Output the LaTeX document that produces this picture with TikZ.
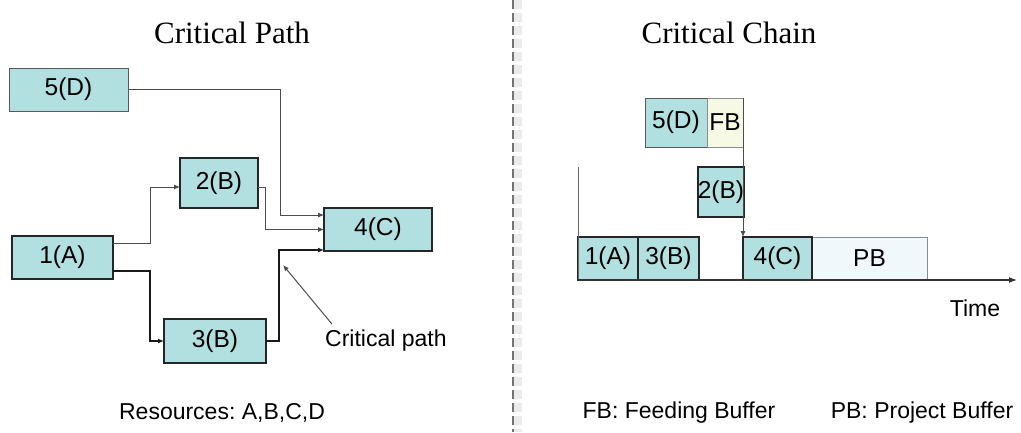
\documentclass[tikz,border=0pt]{standalone}
\usepackage{fontspec}
\setmainfont{Liberation Sans}
\newfontfamily\titlefont{Liberation Serif}
\usetikzlibrary{arrows.meta, positioning, calc}
\definecolor{taskfill}{RGB}{178,224,224}
\definecolor{fbfill}{RGB}{246,250,228}
\definecolor{pbfill}{RGB}{240,248,252}
\frenchspacing

\begin{document}
\begin{tikzpicture}[x=1pt, y=-1pt,
    lbl/.style={font=\fontsize{23}{23}\selectfont, inner sep=0pt},
    task/.style={draw=black!85, line width=2.6pt, fill=taskfill, inner sep=0pt,
                 outer sep=0pt, font=\fontsize{24.5}{24.5}\selectfont},
    thintask/.style={task, draw=black!65, line width=1pt},
    buffer/.style={thintask, draw=black!45},
    thinedge/.style={draw=black!70, line width=0.9pt, -{Latex[length=6pt,width=5pt]}},
    thickedge/.style={draw=black!90, line width=2.2pt, -{Latex[length=6pt,width=5pt]}}]
  \useasboundingbox (0,0) rectangle (1021,432);
  % separator between the two halves
  \draw[black!8, line width=8pt, dash pattern=on 9pt off 4pt] (518,0) -- (518,432);
  \draw[black!55, line width=2.5pt, dash pattern=on 9pt off 4pt] (513,0) -- (513,432);
  % titles
  \node[font=\titlefont\fontsize{31}{31}\selectfont] (tpath) at (232,33) {Critical Path};
  \node[font=\titlefont\fontsize{31}{31}\selectfont] (tchain) at (729,33) {Critical Chain};

  % Critical path network
  \node[thintask, minimum width=119pt, minimum height=43pt] (d5) at (68.5,89.5) {5(D)};
  \node[task, minimum width=78pt, minimum height=50pt] (b2) at (219,183) {2(B)};
  \node[task, minimum width=108pt, minimum height=43pt] (c4) at (378,229.5) {4(C)};
  \node[task, minimum width=101pt, minimum height=43pt] (a1) at (62.5,257.5) {1(A)};
  \node[task, minimum width=102pt, minimum height=44pt] (b3) at (215,341) {3(B)};
  \draw[thinedge] (d5.east) -- ++(152,0) |- ([yshift=14.5pt]c4.west);
  \draw[thinedge] ([yshift=-4pt]b2.east) -- ++(7,0) |- (c4.west);
  \draw[thinedge] ([yshift=14.5pt]a1.east) -- ++(37,0) |- ([yshift=-4pt]b2.west);
  \draw[thickedge] ([yshift=-13.5pt]a1.east) -- ++(37,0) |- (b3.west);
  \draw[thickedge] (b3.east) -- ++(13,0) |- ([yshift=-20.5pt]c4.west);
  % label of the critical path
  \node[lbl, anchor=west] (cp) at (325,341) {Critical path};
  \coordinate (cptip) at (283,265);
  \draw[black!70, line width=1pt, -{Latex[length=6pt,width=5pt]}]
    ([xshift=7pt,yshift=6pt]cp.north west) -- (cptip);
  \node[lbl] (res) at (222,413) {Resources: A,B,C,D};

  % Critical chain schedule
  \coordinate (origin) at (578,280);
  \coordinate (ytop) at (578,167);
  \coordinate (xend) at (1017,280);
  \node[thintask, minimum width=62pt, minimum height=49pt] (d5r) at (676,122.5) {5(D)};
  \node[buffer, fill=fbfill, minimum width=36pt, minimum height=49pt] (fb) at (725,122.5) {FB};
  \node[task, minimum width=46pt, minimum height=50pt] (b2r) at (721,192) {2(B)};
  \node[buffer, fill=pbfill, minimum width=115pt, minimum height=43pt] (pb) at (869.5,258.5) {PB};
  \node[task, minimum width=69pt, minimum height=43pt] (c4r) at (777.5,258.5) {4(C)};
  \node[task, minimum width=60pt, minimum height=43pt] (a1r) at (608,258.5) {1(A)};
  \node[task, minimum width=61pt, minimum height=43pt] (b3r) at (668.5,258.5) {3(B)};
  \draw[black!60, line width=1pt] (ytop) -- (origin);
  \draw[black!80, line width=1.2pt, -{Latex[length=8pt,width=6pt]}] (origin) -- (xend);
  \draw[thinedge] (fb.north east) -- (c4r.north west);
  \node[lbl] (time) at (975,308) {Time};
  \node[lbl] (fbkey) at (679,413) {FB: Feeding Buffer};
  \node[lbl] (pbkey) at (922,413) {PB: Project Buffer};
\end{tikzpicture}
\end{document}
